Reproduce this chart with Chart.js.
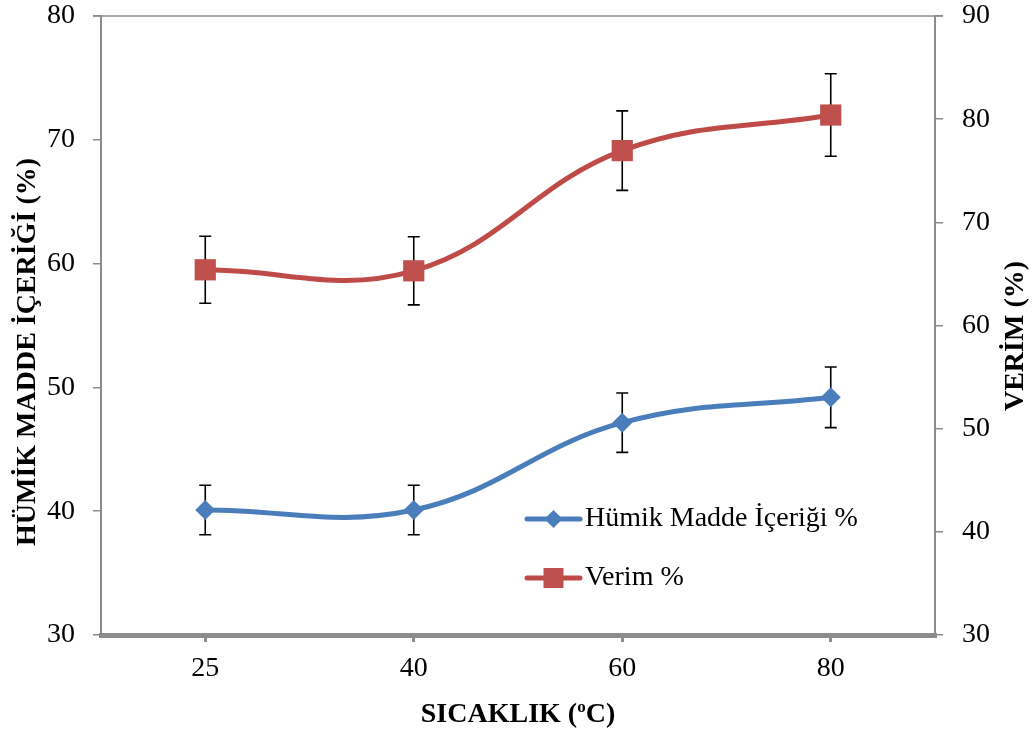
<!DOCTYPE html>
<html>
<head>
<meta charset="utf-8">
<script src="https://cdn.jsdelivr.net/npm/chart.js@4.4.1/dist/chart.umd.min.js"></script>
<style>
  html, body { margin: 0; padding: 0; background: #fff; }
  #wrap { width: 1036px; height: 733px; position: relative; }
</style>
</head>
<body>
<div id="wrap"><canvas id="chart"></canvas></div>
<script>
// temperatures (x categories)
const TEMPS = ['25', '40', '60', '80'];

// humic substance content, left axis
const HUMIC = [40.1, 40.1, 47.15, 49.2];
const HUMIC_ERR = [2.0, 2.0, 2.4, 2.45];

// yield, right axis
const VERIM = [65.4, 65.3, 76.95, 80.4];
const VERIM_ERR = [3.25, 3.3, 3.85, 4.0];

const LEFT_TICKS = [30, 80];
const RIGHT_TICKS = [30, 90];

const FONT = 'Liberation Serif';
const AXIS_GRAY = '#8c8c8c';
const BLUE = '#4a7ebb';
const RED = '#be4b48';

// draws error bars under the markers
const errorBars = {
  id: 'errorBars',
  beforeDatasetsDraw(chart) {
    const ctx = chart.ctx;
    const x = chart.scales.x;
    ctx.save();
    ctx.strokeStyle = '#000';
    ctx.lineWidth = 1.6;
    chart.data.datasets.forEach(ds => {
      const y = chart.scales[ds.yAxisID];
      ds.data.forEach((v, i) => {
        const px = x.getPixelForValue(i);
        const top = y.getPixelForValue(v + ds.err[i]);
        const bot = y.getPixelForValue(v - ds.err[i]);
        ctx.beginPath();
        ctx.moveTo(px, top); ctx.lineTo(px, bot);
        ctx.moveTo(px - 6, top); ctx.lineTo(px + 6, top);
        ctx.moveTo(px - 6, bot); ctx.lineTo(px + 6, bot);
        ctx.stroke();
      });
    });
    ctx.restore();
  }
};

// top border, axis titles and the legend inside the plot
const decorations = {
  id: 'decorations',
  afterDraw(chart) {
    const ctx = chart.ctx;
    const a = chart.chartArea;
    ctx.save();

    ctx.strokeStyle = AXIS_GRAY;
    ctx.lineWidth = 1.5;
    ctx.beginPath();
    ctx.moveTo(a.left - 8, a.top); ctx.lineTo(a.right + 8, a.top);
    ctx.stroke();

    ctx.fillStyle = '#000';
    ctx.font = 'bold 28px ' + FONT;
    ctx.textAlign = 'center';
    ctx.textBaseline = 'middle';

    ctx.save();
    ctx.translate(28, 352);
    ctx.rotate(-Math.PI / 2);
    ctx.fillText('HÜMİK MADDE İÇERİĞİ (%)', 0, 0);
    ctx.restore();

    ctx.save();
    ctx.translate(1016, 336);
    ctx.rotate(-Math.PI / 2);
    ctx.fillText('VERİM (%)', 0, 0);
    ctx.restore();

    // x title with a raised small "o"
    const p1 = 'SICAKLIK (', p3 = 'C)';
    const w1 = ctx.measureText(p1).width;
    const w3 = ctx.measureText(p3).width;
    ctx.font = 'bold 17px ' + FONT;
    const w2 = ctx.measureText('o').width;
    const cx = (a.left + a.right) / 2;
    const sx = cx - (w1 + w2 + w3) / 2;
    const ty = 715;
    ctx.textAlign = 'left';
    ctx.font = 'bold 28px ' + FONT;
    ctx.fillText(p1, sx, ty);
    ctx.font = 'bold 17px ' + FONT;
    ctx.fillText('o', sx + w1, ty - 7);
    ctx.font = 'bold 28px ' + FONT;
    ctx.fillText(p3, sx + w1 + w2, ty);

    // legend
    const lx = a.left + 426;
    const rows = [a.top + 503, a.top + 562];
    chart.data.datasets.forEach((ds, i) => {
      const y = rows[i];
      ctx.strokeStyle = ds.borderColor;
      ctx.lineWidth = 5;
      ctx.lineCap = 'round';
      ctx.beginPath();
      ctx.moveTo(lx, y); ctx.lineTo(lx + 53, y);
      ctx.stroke();
      ctx.fillStyle = ds.pointBackgroundColor;
      const mx = lx + 26.5;
      ctx.beginPath();
      if (ds.pointStyle === 'rectRot') {
        const r = 9;
        ctx.moveTo(mx - r, y); ctx.lineTo(mx, y - r);
        ctx.lineTo(mx + r, y); ctx.lineTo(mx, y + r);
      } else {
        const h = 10;
        ctx.rect(mx - h, y - h, 2 * h, 2 * h);
      }
      ctx.closePath();
      ctx.fill();
      ctx.fillStyle = '#000';
      ctx.font = '28px ' + FONT;
      ctx.textAlign = 'left';
      ctx.textBaseline = 'middle';
      ctx.fillText(ds.label, lx + 58, y);
    });

    ctx.restore();
  }
};

const tickFont = { family: FONT, size: 28 };

// fixed axis width, and no extra room reserved for the end labels
function fitY(scale) {
  scale.width = 101;
  scale.paddingTop = 0;
  scale.paddingBottom = 0;
}

new Chart(document.getElementById('chart'), {
  type: 'line',
  data: {
    labels: TEMPS,
    datasets: [
      {
        label: 'Hümik Madde İçeriği %',
        data: HUMIC,
        err: HUMIC_ERR,
        yAxisID: 'y',
        borderColor: BLUE,
        borderWidth: 5,
        pointStyle: 'rectRot',
        pointRadius: 10,
        pointBackgroundColor: BLUE,
        pointBorderWidth: 0,
        tension: 0.4,
      },
      {
        label: 'Verim %',
        data: VERIM,
        err: VERIM_ERR,
        yAxisID: 'y1',
        borderColor: RED,
        borderWidth: 5,
        pointStyle: 'rect',
        pointRadius: 15,
        pointBackgroundColor: '#c0504d',
        pointBorderWidth: 0,
        tension: 0.4,
      },
    ]
  },
  options: {
    responsive: true,
    maintainAspectRatio: false,
    animation: false,
    layout: { padding: { top: 16, left: 0, right: 0, bottom: 0 } },
    plugins: {
      legend: { display: false },
      tooltip: { enabled: false },
    },
    scales: {
      x: {
        offset: true,
        grid: { drawOnChartArea: false, offset: false, tickLength: 7, lineWidth: 3, color: AXIS_GRAY },
        border: { color: AXIS_GRAY, width: 5 },
        ticks: { font: tickFont, color: '#000', padding: 10 },
        afterFit(scale) { scale.height = 98; },
      },
      y: {
        position: 'left',
        min: LEFT_TICKS[0],
        max: LEFT_TICKS[1],
        ticks: { stepSize: 10, font: tickFont, color: '#000', padding: 18 },
        grid: { drawOnChartArea: false, tickLength: 8, lineWidth: 1.5, color: AXIS_GRAY },
        border: { color: AXIS_GRAY, width: 2 },
        afterFit: fitY,
      },
      y1: {
        position: 'right',
        min: RIGHT_TICKS[0],
        max: RIGHT_TICKS[1],
        ticks: { stepSize: 10, font: tickFont, color: '#000', padding: 19 },
        grid: { drawOnChartArea: false, tickLength: 8, lineWidth: 1.5, color: AXIS_GRAY },
        border: { color: AXIS_GRAY, width: 2 },
        afterFit: fitY,
      },
    }
  },
  plugins: [errorBars, decorations]
});
</script>
</body>
</html>
